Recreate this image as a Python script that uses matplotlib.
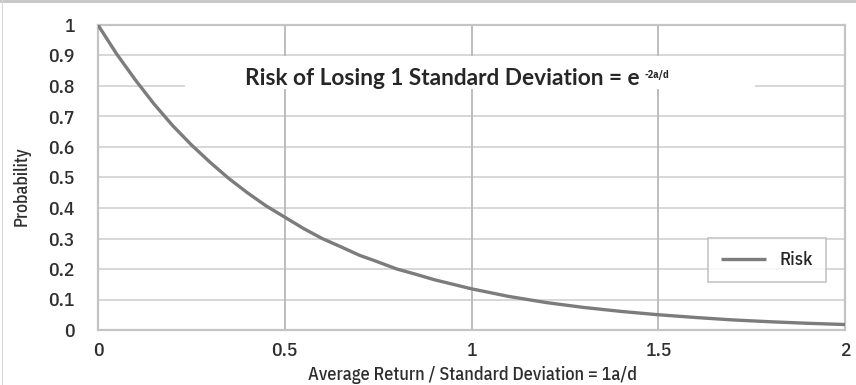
import matplotlib
matplotlib.use("Agg")
import matplotlib.pyplot as plt
from matplotlib import font_manager as fm
from matplotlib.patches import Rectangle

# ---- data ----
ratio = [0.0, 0.05, 0.1, 0.15, 0.2, 0.25, 0.3, 0.35, 0.4, 0.45, 0.5,
         0.55, 0.6, 0.65, 0.7, 0.75, 0.8, 0.85, 0.9, 0.95, 1.0,
         1.1, 1.2, 1.3, 1.4, 1.5, 1.6, 1.7, 1.8, 1.9, 2.0]
risk = [1.0, 0.905, 0.82, 0.741, 0.67, 0.607, 0.55, 0.497, 0.45, 0.407, 0.37,
        0.333, 0.30, 0.273, 0.245, 0.223, 0.20, 0.183, 0.165, 0.150, 0.135,
        0.11, 0.09, 0.074, 0.061, 0.05, 0.041, 0.033, 0.027, 0.022, 0.018]
x_ticks = [0, 0.5, 1, 1.5, 2]
x_tick_labels = ["0", "0.5", "1", "1.5", "2"]
y_ticks = [0, 0.1, 0.2, 0.3, 0.4, 0.5, 0.6, 0.7, 0.8, 0.9, 1.0]
y_tick_labels = ["0", "0.1", "0.2", "0.3", "0.4", "0.5", "0.6", "0.7", "0.8", "0.9", "1"]
title_main = "Risk of Losing 1 Standard Deviation = e"
title_sup = "-2a/d"
x_label = "Average Return / Standard Deviation = 1a/d"
y_label = "Probability"
series_name = "Risk"

# ---- fonts ----
installed = {f.name for f in fm.fontManager.ttflist}
def pick(prefs):
    for p in prefs:
        if p in installed:
            return p
    return "DejaVu Sans"
cond = pick(["IBM Plex Sans Condensed", "PT Sans Narrow", "Archivo Narrow", "Roboto Condensed"])
boldf = pick(["Lato", "Noto Sans", "DejaVu Sans"])
CW = 500

W, H = 856, 385
fig = plt.figure(figsize=(W / 100, H / 100), dpi=100)
fig.patch.set_facecolor("white")

# frame of the picture
fig.add_artist(Rectangle((0, (H - 3) / H), 1, 3 / H, transform=fig.transFigure,
                         facecolor="#c8c8c8", edgecolor="none"))
fig.add_artist(Rectangle((1.5 / W, 0), 1.5 / W, 1, transform=fig.transFigure,
                         facecolor="#d6d6d6", edgecolor="none"))

L, R, T, B = 98, 845, 25, 330
ax = fig.add_axes([L / W, (H - B) / H, (R - L) / W, (B - T) / H])
ax.set_xlim(0, 2)
ax.set_ylim(0, 1)
ax.set_axisbelow(True)

for y in y_ticks[1:]:
    ax.axhline(y, color="#d4d4d4", lw=1.3, zorder=0.5)
for x in x_ticks[1:-1]:
    ax.axvline(x, color="#b8b8b8", lw=1.3, zorder=0.6)
for s in ax.spines.values():
    s.set_color("#c4c4c4")
    s.set_linewidth(1.6)

ax.set_xticks(x_ticks)
ax.set_xticklabels(x_tick_labels)
ax.set_yticks(y_ticks)
ax.set_yticklabels(y_tick_labels)
ax.tick_params(length=0, colors="#2e2e2e", labelsize=14)
ax.tick_params(axis="y", pad=17)
ax.tick_params(axis="x", pad=9)
for lab in ax.get_xticklabels() + ax.get_yticklabels():
    lab.set_family(cond)
    lab.set_weight(CW)

ax.plot(ratio, risk, color="#7c7c7c", lw=2.4, label=series_name, zorder=3,
        solid_capstyle="butt", solid_joinstyle="round")

# white box behind title
bx0, bx1 = (185 - L) / (R - L) * 2, (755 - L) / (R - L) * 2
by0, by1 = (B - 89) / (B - T), (B - 56) / (B - T)
ax.add_patch(Rectangle((bx0, by0), bx1 - bx0, by1 - by0, facecolor="white",
                       edgecolor="none", zorder=1))

fig.canvas.draw()
rend = fig.canvas.get_renderer()

def px_to_fig(xp, yp):
    return xp / W, (H - yp) / H

# title main text, fit width to ~397 px
t = fig.text(*px_to_fig(245, 85), title_main, family=boldf, weight="bold",
             fontsize=14, color="#262626", ha="left", va="baseline", zorder=5)
w = t.get_window_extent(rend).width
t.set_fontsize(14 * 397 / w)
fig.canvas.draw()
bb = t.get_window_extent(rend)
sx = bb.x1 + 5
ts = fig.text(sx / W, (H - 78) / H, title_sup, family=cond, weight="bold",
              fontsize=7.5, color="#262626", ha="left", va="baseline", zorder=5)

# axis labels
xl = fig.text(473 / W, (H - 375) / H, x_label, family=cond, weight=CW, fontsize=13,
              color="#2e2e2e", ha="center", va="center")
w = xl.get_window_extent(rend).width
xl.set_fontsize(13 * 330 / w)
yl = fig.text(22 / W, (H - 186) / H, y_label, family=cond, weight=CW, fontsize=13,
              color="#2e2e2e", ha="center", va="center", rotation=90)
h = yl.get_window_extent(rend).height
yl.set_fontsize(13 * 80 / h)

# legend
leg = ax.legend(loc="upper left",
                bbox_to_anchor=((708 - L) / (R - L), (B - 238) / (B - T)),
                borderaxespad=0, frameon=True, fancybox=False,
                prop={"family": cond, "size": 13.5, "weight": CW}, handlelength=2.4,
                handletextpad=0.7, borderpad=0.7)
leg.get_frame().set_edgecolor("#b8b8b8")
leg.get_frame().set_linewidth(1.2)
for txt in leg.get_texts():
    txt.set_color("#262626")

fig.savefig("out.png", dpi=100, facecolor="white")
